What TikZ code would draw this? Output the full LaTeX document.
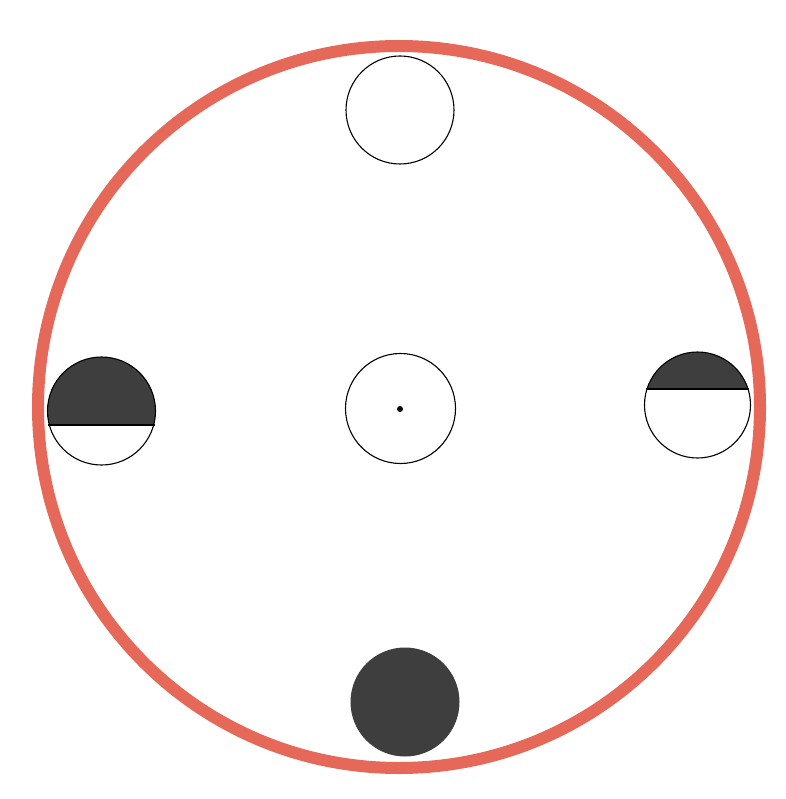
\documentclass[tikz,border=0pt]{standalone}
\definecolor{ringred}{RGB}{230,104,88}
\definecolor{darkfill}{RGB}{62,62,62}
\tikzset{
  ring/.style={circle, draw=ringred, line width=12pt, inner sep=0pt},
  ball/.style={circle, draw=black, line width=1.1pt, inner sep=0pt},
  solidball/.style={circle, fill=darkfill, draw=darkfill, line width=1pt, inner sep=0pt},
}
\begin{document}
\begin{tikzpicture}[x=1pt,y=-1pt]
\useasboundingbox (0,0) rectangle (785,799);
\fill[white] (0,0) rectangle (785,799);
% outer ring
\node[ring, minimum size=722pt] (outer) at (399,407) {};
% top empty circle
\node[ball, minimum size=108pt] (top) at (400,110) {};
% centre circle with dot
\node[ball, minimum size=110pt] (centre) at (400.5,408.5) {};
\node[circle, fill=black, inner sep=0pt, minimum size=6pt] (dot) at (400,409) {};
% bottom filled circle
\node[solidball, minimum size=108pt] (bottom) at (405,702) {};
% left circle, dark above y=425
\begin{scope}
  \clip (0,0) rectangle (785,425);
  \fill[darkfill] (101.5,411) circle[radius=54];
\end{scope}
\node[ball, minimum size=108pt] (left) at (101.5,411) {};
\draw[line width=1.1pt] (47.6,425) -- (155.4,425);
% right circle, dark above y=389
\begin{scope}
  \clip (0,0) rectangle (785,389);
  \fill[darkfill] (697.5,405) circle[radius=53];
\end{scope}
\node[ball, minimum size=106pt] (right) at (697.5,405) {};
\draw[line width=1.1pt] (646,389) -- (749,389);
\end{tikzpicture}
\end{document}
